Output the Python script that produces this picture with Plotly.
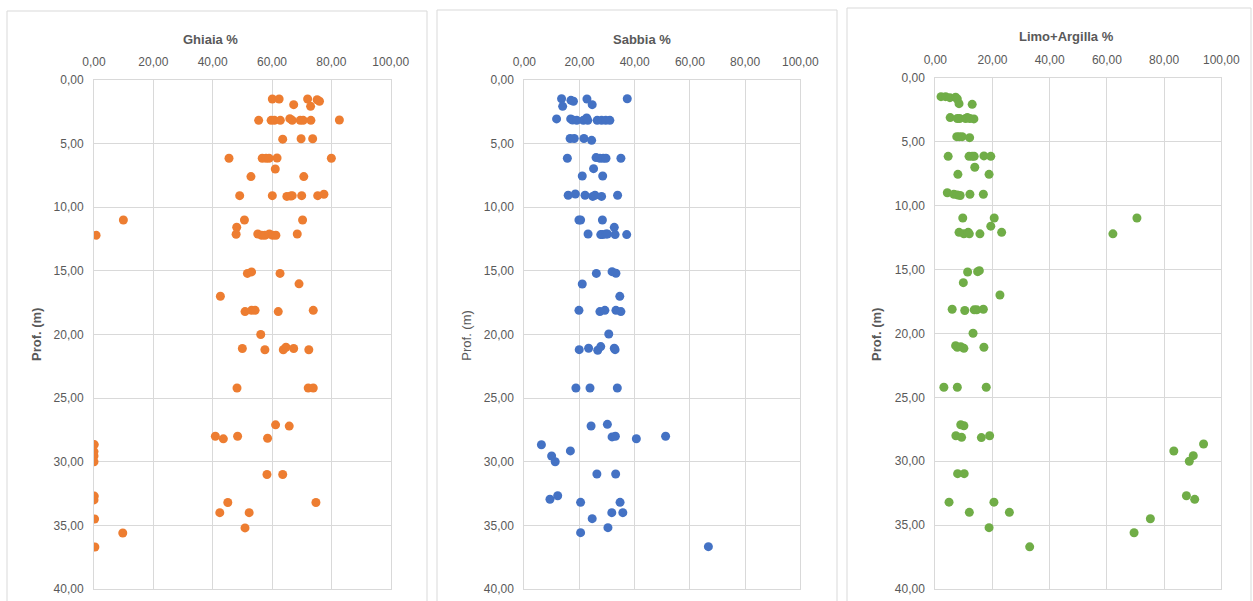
import plotly.graph_objects as go

# ---------------- data ----------------
ghiaia_pct = [60.1, 62.4, 72.0, 75.2, 76.0, 67.3, 73.0,
              55.5, 59.7, 60.8, 62.8, 66.0, 66.8, 69.5, 70.5, 73.1, 82.7,
              63.6, 69.8, 73.7,
              45.5, 56.7, 58.0, 59.0, 61.7, 80.0,
              61.1, 52.9, 70.7,
              49.1, 60.1, 65.0, 66.3, 66.8, 70.0, 75.4, 77.5,
              9.9, 50.7, 70.3, 48.1,
              0.7, 47.9, 55.2, 56.5, 57.6, 59.1, 60.2, 61.3, 68.5,
              51.7, 53.1, 62.7,
              69.1, 42.6,
              50.9, 53.1, 54.3, 62.1, 73.9,
              56.2,
              50.0, 57.6, 63.8, 64.7, 67.3, 72.4,
              48.2, 72.2, 73.9,
              61.2, 65.8,
              40.9, 43.6, 48.4, 58.5,
              0.1, 0.0, 0.0, 0.0,
              58.3, 63.6,
              0.1, 0.0,
              45.1, 74.8,
              42.4, 52.3,
              0.2, 50.9, 9.7, 0.3]
ghiaia_prof = [1.49, 1.49, 1.49, 1.55, 1.67, 1.94, 2.07,
               3.17, 3.17, 3.17, 3.17, 3.04, 3.17, 3.17, 3.17, 3.17, 3.14,
               4.65, 4.62, 4.62,
               6.15, 6.15, 6.15, 6.15, 6.13, 6.15,
               6.99, 7.59, 7.59,
               9.09, 9.09, 9.15, 9.12, 9.09, 9.09, 9.09, 8.98,
               11.0, 11.0, 11.0, 11.57,
               12.2, 12.12, 12.1, 12.2, 12.2, 12.1, 12.2, 12.2, 12.1,
               15.2, 15.08, 15.2,
               16.02, 16.99,
               18.2, 18.1, 18.1, 18.2, 18.1,
               20.0,
               21.1, 21.2, 21.2, 21.0, 21.1, 21.2,
               24.2, 24.2, 24.2,
               27.1, 27.2,
               28.0, 28.2, 28.0, 28.15,
               28.65, 29.2, 29.55, 30.0,
               31.0, 31.0,
               32.7, 33.0,
               33.2, 33.2,
               34.0, 34.0,
               34.5, 35.2, 35.6, 36.7]

sabbia_pct = [13.5, 13.9, 16.9, 17.8, 22.7, 24.6, 37.3,
              11.7, 16.8, 17.5, 19.0, 21.4, 22.6, 23.0, 26.4, 28.0, 29.5, 31.0,
              16.6, 18.1, 21.6, 24.4,
              15.6, 26.0, 27.4, 28.6, 29.6, 35.0,
              25.1, 21.0, 28.4,
              15.9, 18.5, 22.0, 24.8, 25.6, 28.0, 33.8,
              19.8, 20.4, 28.3, 32.6,
              23.1, 27.7, 28.4, 29.6, 30.1, 32.9, 37.1,
              26.1, 31.8, 33.2,
              21.0, 34.6,
              19.8, 27.4, 29.2, 33.2, 35.0,
              30.6,
              19.9, 23.3, 26.6, 27.7, 32.6, 32.9,
              18.7, 23.8, 33.7,
              24.2, 30.1,
              31.8, 33.0, 40.6, 51.2,
              6.2, 16.7, 9.9, 11.2,
              26.3, 33.1,
              12.1, 9.3,
              20.4, 34.7,
              31.7, 35.7,
              24.6, 30.3, 20.4, 66.7]
sabbia_prof = [1.47, 2.07, 1.6, 1.67, 1.49, 1.94, 1.47,
               3.06, 3.06, 3.14, 3.17, 3.17, 2.98, 3.17, 3.17, 3.17, 3.17, 3.17,
               4.6, 4.6, 4.6, 4.74,
               6.15, 6.1, 6.15, 6.15, 6.15, 6.15,
               6.97, 7.54, 7.54,
               9.06, 8.96, 9.06, 9.15, 9.06, 9.15, 9.06,
               11.0, 11.0, 11.0, 11.58,
               12.1, 12.15, 12.15, 12.1, 12.1, 12.15, 12.15,
               15.2, 15.06, 15.19,
               16.03, 17.0,
               18.1, 18.2, 18.1, 18.1, 18.2,
               19.96,
               21.19, 21.08, 21.24, 20.95, 21.08, 21.19,
               24.2, 24.2, 24.2,
               27.19, 27.06,
               28.05, 28.0, 28.19, 28.0,
               28.66, 29.15, 29.55, 30.0,
               30.96, 30.96,
               32.67, 32.95,
               33.19, 33.19,
               34.0, 34.0,
               34.47, 35.18, 35.57, 36.67]

limo_pct = [2.0, 3.6, 5.1, 7.1, 7.7, 8.3, 12.9,
            5.2, 7.7, 8.5, 10.6, 11.2, 12.1, 13.5,
            7.5, 8.4, 9.4, 12.0,
            4.5, 11.8, 12.9, 13.6, 17.0, 19.4,
            13.8, 7.9, 18.8,
            4.2, 6.5, 7.7, 8.7, 12.1, 16.8,
            9.6, 20.6, 70.5, 19.4,
            8.3, 10.0, 11.5, 11.9, 15.6, 23.2, 62.1,
            11.3, 14.8, 15.4,
            9.8, 22.6,
            5.9, 10.3, 13.6, 14.5, 16.8,
            13.2,
            7.1, 7.7, 8.9, 10.0, 17.0,
            3.0, 7.7, 17.8,
            8.9, 10.0,
            7.2, 9.2, 16.1, 19.0,
            93.8, 83.4, 90.2, 88.8,
            7.8, 10.1,
            87.8, 90.7,
            4.8, 20.5,
            11.9, 25.9,
            75.2, 18.8, 69.5, 33.0]
limo_prof = [1.46, 1.46, 1.54, 1.51, 1.64, 2.01, 2.06,
             3.1, 3.17, 3.17, 3.17, 3.1, 3.17, 3.2,
             4.59, 4.59, 4.59, 4.67,
             6.13, 6.13, 6.13, 6.13, 6.1, 6.13,
             6.99, 7.54, 7.54,
             8.98, 9.1, 9.15, 9.2, 9.1, 9.1,
             10.96, 10.96, 10.96, 11.6,
             12.08, 12.2, 12.08, 12.2, 12.2, 12.08, 12.2,
             15.19, 15.16, 15.08,
             16.02, 16.99,
             18.1, 18.2, 18.15, 18.15, 18.1,
             19.98,
             20.95, 21.08, 21.03, 21.16, 21.08,
             24.21, 24.21, 24.21,
             27.14, 27.22,
             28.0, 28.13, 28.15, 28.0,
             28.65, 29.2, 29.56, 30.0,
             30.97, 30.97,
             32.7, 32.98,
             33.2, 33.2,
             34.0, 34.0,
             34.5, 35.2, 35.6, 36.7]

titles = ["Ghiaia %", "Sabbia %", "Limo+Argilla %"]
y_title = "Prof. (m)"
colors = ["#ED7D31", "#4472C4", "#70AD47"]

# ---------------- layout geometry ----------------
W, H = 1253, 601
def px(x): return x / W
def py(y): return 1 - y / H

x_domains = [(94, 390.7), (524.3, 800.3), (935.3, 1221.3)]
y_domains = [(80, 589), (80, 589), (78, 589)]
panels = [(7, 11, 427), (437, 10, 837), (847, 8, 1251)]
title_pos = [(210.7, 40), (641.7, 40), (1066, 37)]
ytitle_pos = [(37, 335, True), (466.7, 335, False), (877, 335, True)]

GRID = "#D9D9D9"
TXT = "#595959"
FONT = "Liberation Sans, Arial, sans-serif"

fig = go.Figure()
series = [(ghiaia_pct, ghiaia_prof), (sabbia_pct, sabbia_prof), (limo_pct, limo_prof)]
for i, (xs, ys) in enumerate(series):
    n = "" if i == 0 else str(i + 1)
    fig.add_trace(go.Scatter(x=xs, y=ys, mode="markers", xaxis="x" + n, yaxis="y" + n,
                             marker=dict(color=colors[i], size=9, line=dict(width=0)),
                             showlegend=False, hoverinfo="x+y"))

layout = dict(template="none", width=W, height=H, autosize=False,
              margin=dict(l=0, r=0, t=0, b=0, pad=0, autoexpand=False),
              paper_bgcolor="white", plot_bgcolor="white", separators=",.",
              font=dict(family=FONT, color=TXT, size=12), showlegend=False)
shapes = []
annotations = []
for i in range(3):
    n = "" if i == 0 else str(i + 1)
    xd, yd = x_domains[i], y_domains[i]
    layout["xaxis" + n] = dict(domain=[px(xd[0]), px(xd[1])], range=[0, 100], dtick=20, tick0=0,
                               side="top", anchor="y" + n, tickformat=".2f", automargin=False,
                               showgrid=True, gridcolor=GRID, gridwidth=1, zeroline=False,
                               showline=True, linecolor=GRID, mirror=True,
                               ticks="", ticklabelstandoff=8,
                               tickfont=dict(family=FONT, size=12, color=TXT))
    layout["yaxis" + n] = dict(domain=[py(yd[1]), py(yd[0])], range=[40, 0], dtick=5, tick0=0,
                               anchor="x" + n, tickformat=".2f", automargin=False,
                               showgrid=True, gridcolor=GRID, gridwidth=1, zeroline=False,
                               showline=True, linecolor=GRID, mirror=True,
                               ticks="", ticklabelstandoff=7,
                               tickfont=dict(family=FONT, size=12, color=TXT))
    l, t, r = panels[i]
    shapes.append(dict(type="rect", xref="paper", yref="paper", x0=px(l), x1=px(r),
                       y0=py(640), y1=py(t), line=dict(color=GRID, width=1),
                       fillcolor="rgba(0,0,0,0)", layer="below"))
    tx, ty = title_pos[i]
    annotations.append(dict(text="<b>" + titles[i] + "</b>", xref="paper", yref="paper",
                            x=px(tx), y=py(ty), xanchor="center", yanchor="middle",
                            showarrow=False, font=dict(family=FONT, size=13, color=TXT)))
    ax, ay, bold = ytitle_pos[i]
    annotations.append(dict(text=("<b>" + y_title + "</b>") if bold else y_title,
                            xref="paper", yref="paper", x=px(ax), y=py(ay),
                            xanchor="center", yanchor="middle", textangle=-90,
                            showarrow=False, font=dict(family=FONT, size=13, color=TXT)))
layout["shapes"] = shapes
layout["annotations"] = annotations
fig.update_layout(**layout)
fig.write_html("out.html", config={"displayModeBar": False, "staticPlot": False},
               post_script="document.body.style.margin='0px';document.body.style.overflow='hidden';")
